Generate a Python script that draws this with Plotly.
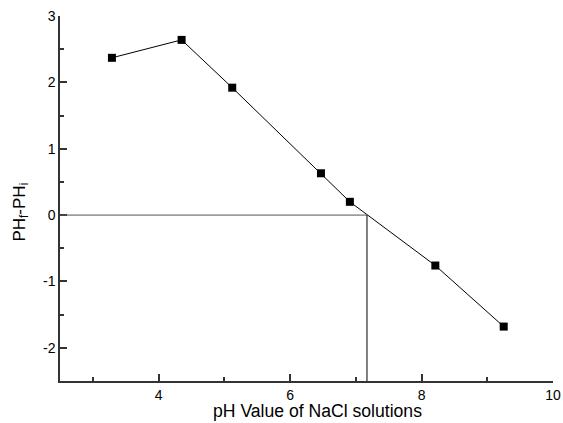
import plotly.graph_objects as go

# Initial pH of NaCl solutions and the resulting pH change (final - initial)
ph_initial = [3.29, 4.35, 5.12, 6.47, 6.91, 8.21, 9.25]
ph_delta = [2.37, 2.64, 1.92, 0.63, 0.20, -0.76, -1.68]

# Point of zero charge: where the curve crosses delta = 0
pzc_x = 7.17
pzc_y = 0.0

x_range = [2.5, 10]
y_range = [-2.5, 3]
x_ticks = [4, 6, 8, 10]
y_ticks = [-2, -1, 0, 1, 2, 3]

font_family = "Liberation Sans, Arial, sans-serif"
axis_color = "#333333"

fig = go.Figure()

fig.add_trace(go.Scatter(
    x=ph_initial, y=ph_delta,
    mode="lines+markers",
    line=dict(color="black", width=1),
    marker=dict(symbol="square", size=8, color="black"),
    showlegend=False,
))

# Guide lines to the zero crossing
fig.add_shape(type="line", xref="x", yref="y",
              x0=x_range[0], x1=pzc_x, y0=pzc_y, y1=pzc_y,
              line=dict(color="#555555", width=1))
fig.add_shape(type="line", xref="x", yref="y",
              x0=pzc_x, x1=pzc_x, y0=y_range[0], y1=pzc_y,
              line=dict(color="black", width=1))

fig.update_xaxes(
    range=x_range, tickvals=x_ticks, ticktext=[str(v) for v in x_ticks],
    automargin=False,
    showgrid=False, zeroline=False, showline=True, linecolor=axis_color, linewidth=1.5,
    ticks="inside", ticklen=7, tickcolor=axis_color, tickwidth=1.5,
    minor=dict(dtick=1, tick0=3, ticks="inside", ticklen=4, tickcolor=axis_color, tickwidth=1.5),
    tickfont=dict(family=font_family, size=14, color="black"),
)
fig.update_yaxes(
    range=y_range, tickvals=y_ticks, ticktext=[str(v) for v in y_ticks],
    automargin=False,
    showgrid=False, zeroline=False, showline=True, linecolor=axis_color, linewidth=1.5,
    ticks="inside", ticklen=7, tickcolor=axis_color, tickwidth=1.5,
    minor=dict(dtick=0.5, tick0=0.5, ticks="inside", ticklen=4, tickcolor=axis_color, tickwidth=1.5),
    tickfont=dict(family=font_family, size=14, color="black"),
)

# Axis titles placed as annotations
fig.add_annotation(
    text="pH Value of NaCl solutions",
    xref="paper", yref="paper", x=0.523, y=-0.082,
    xanchor="center", yanchor="middle", showarrow=False,
    font=dict(family=font_family, size=17.6, color="black"),
)
fig.add_annotation(
    text="PH<sub>f</sub>-PH<sub>i</sub>",
    xref="paper", yref="paper", x=-0.08, y=0.463,
    xanchor="center", yanchor="middle", textangle=-90, showarrow=False,
    font=dict(family=font_family, size=17, color="black"),
)

fig.update_layout(
    width=563, height=423,
    margin=dict(l=60, r=10, t=16, b=42),
    paper_bgcolor="white", plot_bgcolor="white",
)

fig.write_html("out.html")
